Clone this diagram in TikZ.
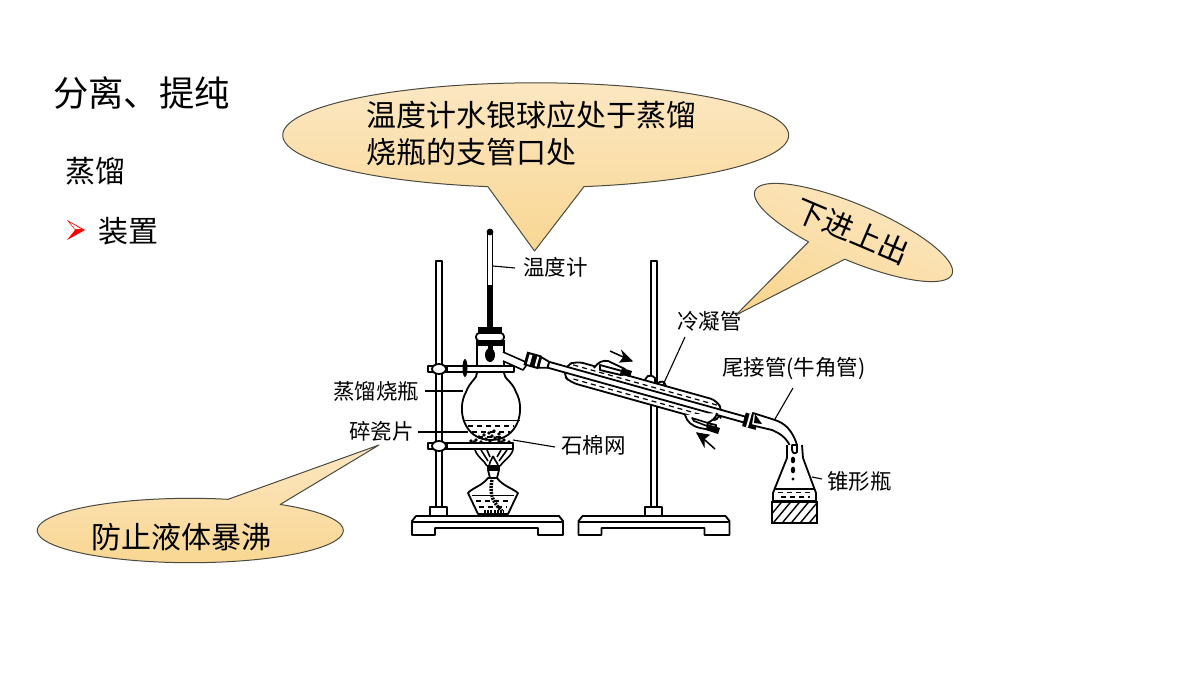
\documentclass[tikz,border=0pt]{standalone}
\usepackage{fontspec}
\setmainfont{Noto Sans CJK SC}
\definecolor{capTop}{HTML}{FCE7C2}
\definecolor{capBot}{HTML}{F9D793}
\definecolor{capLine}{HTML}{4A4A40}
\tikzset{
  bubble/.style={draw=capLine,line width=1pt,top color=capTop,bottom color=capBot,line join=round},
  glass/.style={draw=black,line width=1.8pt,fill=white,line join=round},
  wire/.style={draw=black,line width=1.6pt,line join=round},
  leader/.style={draw=black,line width=1.1pt},
  water/.style={draw=black,line width=1.2pt,dash pattern=on 5pt off 4pt},
  lab/.style={inner sep=0pt,anchor=west,font=\fontsize{21.5}{21.5}\selectfont,text=black},
  big/.style={inner sep=0pt,anchor=west,font=\fontsize{30}{30}\selectfont,text=black},
}
\begin{document}
\begin{tikzpicture}[x=1pt,y=-1pt]
\useasboundingbox[fill=white] (0,0) rectangle (1200,675);
% ---------- headings
\node[inner sep=0pt,anchor=west,font=\fontsize{35.3}{35.3}\selectfont] (title) at (53,93) {分离、提纯};
\node[big] (zl) at (65,171) {蒸馏};
\node[big] (zz) at (98,231) {装置};
\fill[red] (67,220) -- (85,230) -- (67,240) -- (75,230) -- cycle;
\fill[white] (70,222.5) -- (81,229) -- (75,229) -- cycle;
% ---------- stands
\foreach \ox/\rx in {0/0,166.5/215}{
  \begin{scope}[shift={(\rx,0)}]
  \draw[glass] (436,261) rectangle (442,507);
  \draw[glass] (430,507) rectangle (447,516);
  \end{scope}
  \begin{scope}[shift={(\ox,0)}]
  \draw[glass] (416,516) -- (559,516) -- (563,521) -- (563,535) -- (538,535) -- (538,528) -- (435,528) -- (435,535) -- (412,535) -- (412,521) -- cycle;
  \draw[wire] (412,522) -- (563,522);
  \end{scope}
}
% ---------- clamps
\draw[glass] (428,366) rectangle (513,372);
\draw[glass] (428,443) rectangle (513,449);
\draw[glass] (439,369) ellipse (7 and 5);
\draw[glass] (439,446) ellipse (7 and 5);
% ---------- flask
\draw[glass] (477,340) -- (477,373) .. controls (477,379) and (470,381) .. (466,392)
  .. controls (456,410) and (464,440) .. (491,440)
  .. controls (518,440) and (526,410) .. (516,392)
  .. controls (512,381) and (504,379) .. (504,373) -- (504,340);
\draw[wire] (462.5,420.5) -- (519.5,420.5);
\foreach \yy/\aa/\bb in {426/468/514,432/472/510,437/478/504}
  \draw[water] (\aa,\yy) -- (\bb,\yy);
\draw[glass] (447,366) rectangle (514,372);
\fill[black] (465,368) ellipse (2.5 and 9);
\draw[glass] (447,443) rectangle (513,449);
% side arm
\draw[wire,fill=white] (503,352) -- (528,363) -- (523,370) -- (503,361);
% chips on gauze
\foreach \px/\py in {471/441,476/440,481/442,486/439,490/441,495/438,499/441,504/440,509/442,489/433,494/431,499/434,484/435,479/437,474/442,502/442,492/436}
  \fill[black] (\px,\py) circle (1.9);
% ---------- thermometer
\fill[black] (478,327) rectangle (502,334);
\draw[glass,rounded corners=3.5pt] (476,333) rectangle (504,341);
\fill[black] (478,341) rectangle (503,346);
\draw[wire,fill=white] (487.5,233) rectangle (492.5,286);
\fill[black] (487,286) rectangle (493,330);
\fill[black] (490,232) circle (3.4);
\fill[black] (487.5,345) rectangle (492.5,352);
\fill[black] (490,355) ellipse (5 and 7);
% ---------- burner
\draw[wire] (475,450) .. controls (478,458) and (484,460) .. (487,466);
\draw[wire] (513,450) .. controls (510,458) and (504,460) .. (500,466);
\draw[wire] (481,450) -- (488,461); \draw[wire] (507,450) -- (499,461);
\draw[wire] (487,450) -- (490,457); \draw[wire] (501,450) -- (497,457);
\draw[wire,fill=white] (493,456) .. controls (491,461) and (489,463) .. (489,466) -- (498,466) .. controls (498,463) and (495,461) .. (493,456);
\draw[glass] (488,478) .. controls (482,486) and (472,488) .. (468,493) -- (478,514) -- (508,514) -- (518,493) .. controls (512,488) and (503,486) .. (497,478) -- cycle;
\fill[black] (487,465) rectangle (500,470);
\draw[glass] (488,470) -- (490,478) -- (497,478) -- (499,470) -- cycle;
\draw[wire] (472,495.5) -- (514,495.5);
\foreach \yy/\aa/\bb in {501/476/511,507/479/507}
  \draw[water] (\aa,\yy) -- (\bb,\yy);
\draw[black,line width=3.4pt,dash pattern=on 2pt off 1pt] (492,480) .. controls (490,490) and (490,500) .. (502,511);
\draw[black,line width=2.8pt,dash pattern=on 2pt off 1.2pt] (484,511.5) -- (504,511.5);
% clamp lumps at rod 2 (behind the jacket)
\draw[glass] (645,384) .. controls (644,376) and (650,373) .. (655,378) -- (655,386);
\draw[glass] (657,385) .. controls (660,379) and (666,381) .. (666,388);
% ---------- condenser (local axis along the tube)
\begin{scope}[shift={(560,368)},rotate=-15.6]
  % connector at flask arm
  \fill[black] (-36,-7) -- (-21,-7) -- (-21,7) -- (-36,7) -- cycle;
  \draw[glass] (-21,-5.5) -- (-12,-3) -- (-12,3) -- (-21,5.5) -- cycle;
  \fill[white] (-33,-5) rectangle (-30,5);
  \fill[white] (-25,-5) rectangle (-23,5);
  % jacket
  \draw[glass,rounded corners=7pt] (5,-4) -- (14,-11) -- (160,-11) -- (168,-2) -- (168,4) -- (160,11) -- (14,11) -- (5,6) -- cycle;
  \draw[water] (12,-6.5) -- (162,-6.5);
  \draw[water] (16,7) -- (160,7);
  % inner tube
  \draw[glass] (-12,-3) -- (192,-3) -- (192,3) -- (-12,3) -- cycle;
  % adapter connector
  \fill[black] (191,-7) rectangle (205,7);
  \fill[white] (195,-7) rectangle (197,7);
\end{scope}
% upper side nozzle
\draw[glass] (594,368) .. controls (598,362) and (603,360) .. (608,361) -- (625,369) -- (623,375) -- (604,371);
\draw[glass] (600,365) -- (622,371) -- (621,375) -- (600,370) -- cycle;
\fill[black] (622,368) -- (632,371) -- (630,377) -- (620,374) -- cycle;
% lower side nozzle
\draw[glass] (685,415) .. controls (687,422) and (692,426) .. (700,428) -- (716,431) -- (716,425) -- (707,423) .. controls (712,421) and (716,418) .. (717,413);
\draw[wire,fill=white] (692,418) -- (708,423) -- (707,426) -- (694,421) -- cycle;
\fill[black] (707,424) -- (720,428) -- (718,434) -- (706,430) -- cycle;
% arrows
\draw[black,line width=1.5pt] (610,351) -- (632,361);
\draw[black,line width=1pt,fill=black] (632,361) -- (620,362) -- (624,357) -- (622,351) -- cycle;
\draw[black,line width=1.5pt] (715,449) -- (697,433);
\draw[black,line width=1pt,fill=black] (697,433) -- (709,435) -- (704,439) -- (704,446) -- cycle;
% ---------- adapter
\draw[glass] (753,413) -- (775,420) .. controls (784,423) and (792,429) .. (797,445) -- (797,451) .. controls (795,454) and (793,454) .. (792,450) -- (790,446)
  .. controls (786,437) and (779,433) .. (772,430) -- (751,425) -- cycle;
\fill[black] (755,414) -- (762,424) -- (754,423) -- cycle;
% ---------- receiving flask
\draw[glass] (787,445) -- (787,458) -- (773,493) -- (773,501) -- (816,501) -- (816,493) -- (803,458) -- (802,445);
\draw[glass] (792,445) -- (797,445) -- (797,452) .. controls (795,454) and (793,454) .. (792,450) -- cycle;
\draw[wire] (774,489) -- (815,489);
\draw[water] (778,492.5) -- (812,492.5);
\draw[water] (781,497) -- (810,497);
\foreach \dy in {460,470}\fill[black] (793,\dy) ellipse (2.2 and 3.4);
\fill[black] (793,479) circle (1.7);
% block
\begin{scope}
  \clip (772,502) rectangle (817,523);
  \foreach \i in {0,1,...,8}
    \draw[black,line width=1.4pt] (760+\i*9,528) -- (785+\i*9,498);
\end{scope}
\draw[black,line width=1.8pt] (772,502) rectangle (817,523);
% ---------- labels and leaders
\coordinate (pTherm) at (493,266);
\coordinate (pFlask) at (463,391);
\coordinate (pChip) at (468,432);
\coordinate (pGauze) at (513,440);
\coordinate (pCond) at (663,385);
\coordinate (pAdapt) at (775,419);
\coordinate (pCone) at (812,477);
\node[lab] (lTherm) at (523,267) {温度计};
\node[lab] (lFlask) at (333,391) {蒸馏烧瓶};
\node[lab] (lChip) at (349,431) {碎瓷片};
\node[lab] (lGauze) at (561,445) {石棉网};
\node[lab] (lCond) at (677,321) {冷凝管};
\node[lab] (lAdapt) at (722,369) {尾接管(牛角管)};
\node[lab] (lCone) at (827,481) {锥形瓶};
\coordinate (qTherm) at (515,268);
\coordinate (qFlask) at (425,391);
\coordinate (qChip) at (418,432);
\coordinate (qGauze) at (555,447);
\coordinate (qCond) at (685,337);
\coordinate (qAdapt) at (793,388);
\coordinate (qCone) at (822,479);
\foreach \n in {Therm,Flask,Chip,Gauze,Cond,Adapt,Cone}
  \draw[leader] (q\n) -- (p\n);
% ---------- callouts
\path[bubble] plot[domain=100.9:439,samples=140] ({535.7+253*cos(\x)},{135.2+52.4*sin(\x)}) -- (534.5,251) -- cycle;
\node[big] (c1a) at (366,115) {温度计水银球应处于蒸馏};
\node[big] (c1b) at (366,152) {烧瓶的支管口处};
\path[bubble,shading angle=-23] plot[domain=110.7:448.7,samples=120] ({853.5+107*cos(\x)*cos(23)-28*sin(\x)*sin(23)},{232.5+107*cos(\x)*sin(23)+28*sin(\x)*cos(23)}) -- (736,315) -- cycle;
\node[inner sep=0pt,rotate=-23,font=\fontsize{30}{30}\selectfont] (c2) at (852.5,231) {下进上出};
\path[bubble] plot[domain=-54:284.3,samples=120] ({190.3+153*cos(\x)},{530.5+32.2*sin(\x)}) -- (379,445) -- cycle;
\node[big] (c3) at (91,537) {防止液体暴沸};
\end{tikzpicture}
\end{document}
